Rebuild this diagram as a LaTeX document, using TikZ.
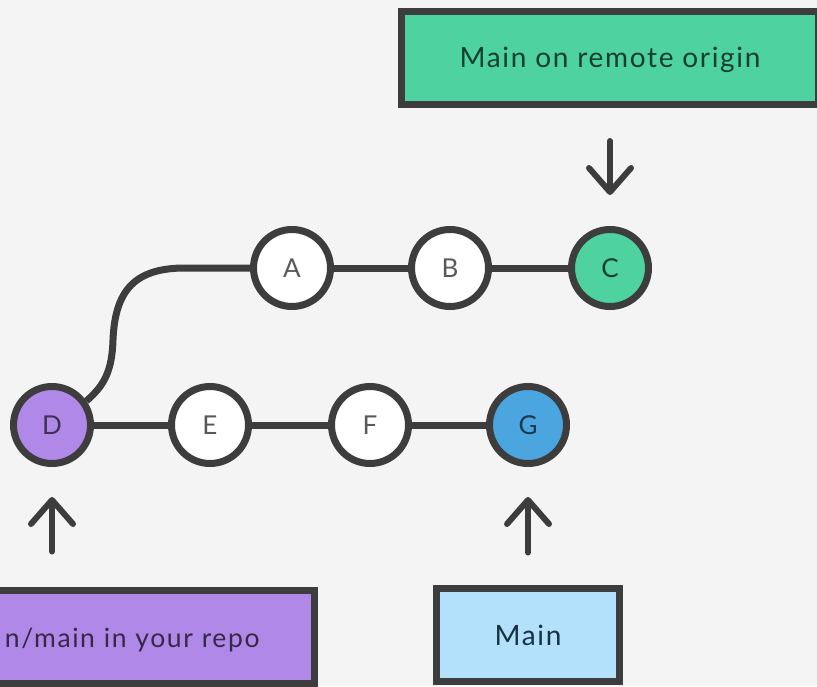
\documentclass[tikz,border=0pt]{standalone}
\usepackage{fontspec}
\setmainfont{Lato}
\newfontfamily\reffont{Lato}[LetterSpace=6]
\usetikzlibrary{arrows.meta,positioning}

\definecolor{bggray}{HTML}{F4F4F4}
\definecolor{linegray}{HTML}{3D3D3D}
\definecolor{remotegreen}{HTML}{4ED2A0}
\definecolor{originpurple}{HTML}{B088E8}
\definecolor{mainblue}{HTML}{4BA6E0}
\definecolor{mainlight}{HTML}{B3E1FC}

\tikzset{
  commit/.style={circle, draw=linegray, fill=white, line width=7pt, minimum size=77pt,
    inner sep=0pt, font=\fontsize{26}{26}\selectfont, text=black!65},
  refbox/.style={rectangle, draw=linegray, line width=7pt, minimum height=93pt,
    inner sep=0pt, outer sep=0pt, text height=20pt, text depth=0pt,
    font=\reffont\fontsize{28}{28}\selectfont},
  history/.style={draw=linegray, line width=7pt},
  pointer/.style={draw=linegray, line width=6pt, line cap=round,
    -{Straight Barb[length=24pt,width=42pt,round]}},
}

\begin{document}
\begin{tikzpicture}[x=1pt, y=-1pt]
        \fill[bggray] (0,0) rectangle (817,686);
        \useasboundingbox (0,0) rectangle (817,686);
        \clip (0,0) rectangle (817,686);

        % commits on the remote
        \node[commit] (A) at (292,268) {A};
        \node[commit] (B) at (450,268) {B};
        \node[commit, fill=remotegreen, text=black!70!remotegreen] (C) at (610,268) {C};

        % local commits
        \node[commit, fill=originpurple, text=black!65!originpurple] (D) at (52,425) {D};
        \node[commit] (E) at (210,425) {E};
        \node[commit] (F) at (370,425) {F};
        \node[commit, fill=mainblue, text=black!65!mainblue] (G) at (528,425) {G};

        \draw[history] (A) -- (B) -- (C);
        \draw[history] (D) -- (E) -- (F) -- (G);
        \draw[history] (D.35) .. controls (105,385) and (112,370) .. (113,340)
          .. controls (115,290) and (135,268) .. (185,268) -- (A);

        % branch labels
        \node[refbox, fill=remotegreen, text=black!70!remotegreen, minimum width=417pt] (remote) at (610,57.5) {Main on remote origin};
        \node[refbox, fill=originpurple, text=black!70!originpurple, anchor=east,
          font=\reffont\fontsize{26.5}{26.5}\selectfont,
          text width=330pt, align=right, inner xsep=55pt] (origin) at (314.5,637) {n/main in your repo};
        \node[refbox, fill=mainlight, text=black!70!mainblue, minimum width=183pt] (main) at (528,635) {Main};

        \draw[pointer, shorten <=37pt, shorten >=31pt] (remote.south -| C) -- (C.north);
        \draw[pointer, shorten <=39pt, shorten >=30pt] (origin.north -| D) -- (D.south);
        \draw[pointer, shorten <=36pt, shorten >=30pt] (main.north) -- (G.south);
      \end{tikzpicture}
\end{document}
